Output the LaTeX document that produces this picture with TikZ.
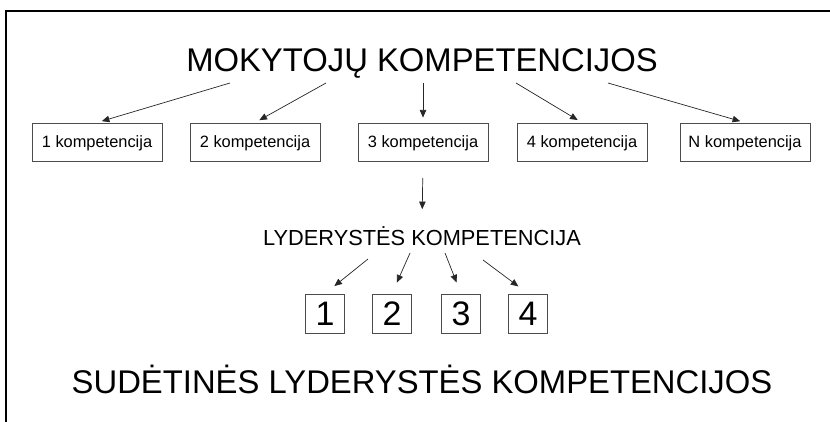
\documentclass[tikz,border=0pt]{standalone}
\usepackage{fontspec}
\setmainfont{Liberation Sans}
\usetikzlibrary{arrows.meta}

\begin{document}
\begin{tikzpicture}[x=0.03cm,y=-0.03cm]

      \useasboundingbox (0,0) rectangle (830,422);
      \draw[line width=0.06cm] (6,422) -- (6,11) -- (830,11);

      % titles
      \begin{scope}[every node/.style={inner sep=0pt,anchor=base}]
        \node (mk) at (422,72) {\fontsize{28}{34}\selectfont MOKYTOJŲ KOMPETENCIJOS};
        \node (ld) at (422,245) {\fontsize{18.6}{22}\selectfont LYDERYSTĖS KOMPETENCIJA};
        \node (sd) at (422,393) {\fontsize{28}{34}\selectfont SUDĖTINĖS LYDERYSTĖS KOMPETENCIJOS};
      \end{scope}

      \begin{scope}[every node/.style={draw=black!70,line width=0.7pt,minimum width=3.9cm,minimum height=1.14cm,inner sep=0pt,text depth=0pt,font=\fontsize{14}{16}\selectfont}]
        \node (k1) at (97,142) {1 kompetencija};
        \node (k2) at (255,142) {2 kompetencija};
        \node (k3) at (423,142) {3 kompetencija};
        \node (k4) at (582,142) {4 kompetencija};
        \node (kn) at (745,142) {N kompetencija};
      \end{scope}

      \begin{scope}[every node/.style={draw=black!70,line width=0.7pt,minimum size=1.17cm,inner sep=0pt,font=\fontsize{29}{34}\selectfont}]
        \node (b1) at (325,313.5) {1};
        \node (b2) at (392,313.5) {2};
        \node (b3) at (461,313.5) {3};
        \node (b4) at (528,313.5) {4};
      \end{scope}

      \coordinate (t1) at (230,83);
      \coordinate (t2) at (326,83);
      \coordinate (t3) at (423,83);
      \coordinate (t4) at (516,83);
      \coordinate (t5) at (608,83);
      \coordinate (s1) at (368,259);
      \coordinate (s2) at (410,253);
      \coordinate (s3) at (445,253);
      \coordinate (s4) at (483,260);

      \begin{scope}[every edge/.style={draw=black!85,line width=0.6pt,-{Triangle[length=6.5pt,width=5.5pt]},shorten >=0.15cm}]
        \path (t1) edge (k1.north);
        \path (t2) edge (k2.north);
        \path (t3) edge (k3.north);
        \path (t4) edge (k4.north);
        \path (t5) edge (kn.north);
        \path (k3.south) edge[shorten <=0.5cm,shorten >=0.5cm] (ld.north);
      \end{scope}

      \begin{scope}[every edge/.style={draw=black!85,line width=0.6pt,-{Triangle[length=6.5pt,width=5.5pt]},shorten >=0.36cm}]
        \path (s1) edge (b1.north);
        \path (s2) edge (b2.north);
        \path (s3) edge (b3.north);
        \path (s4) edge (b4.north);
      \end{scope}

    \end{tikzpicture}
\end{document}
